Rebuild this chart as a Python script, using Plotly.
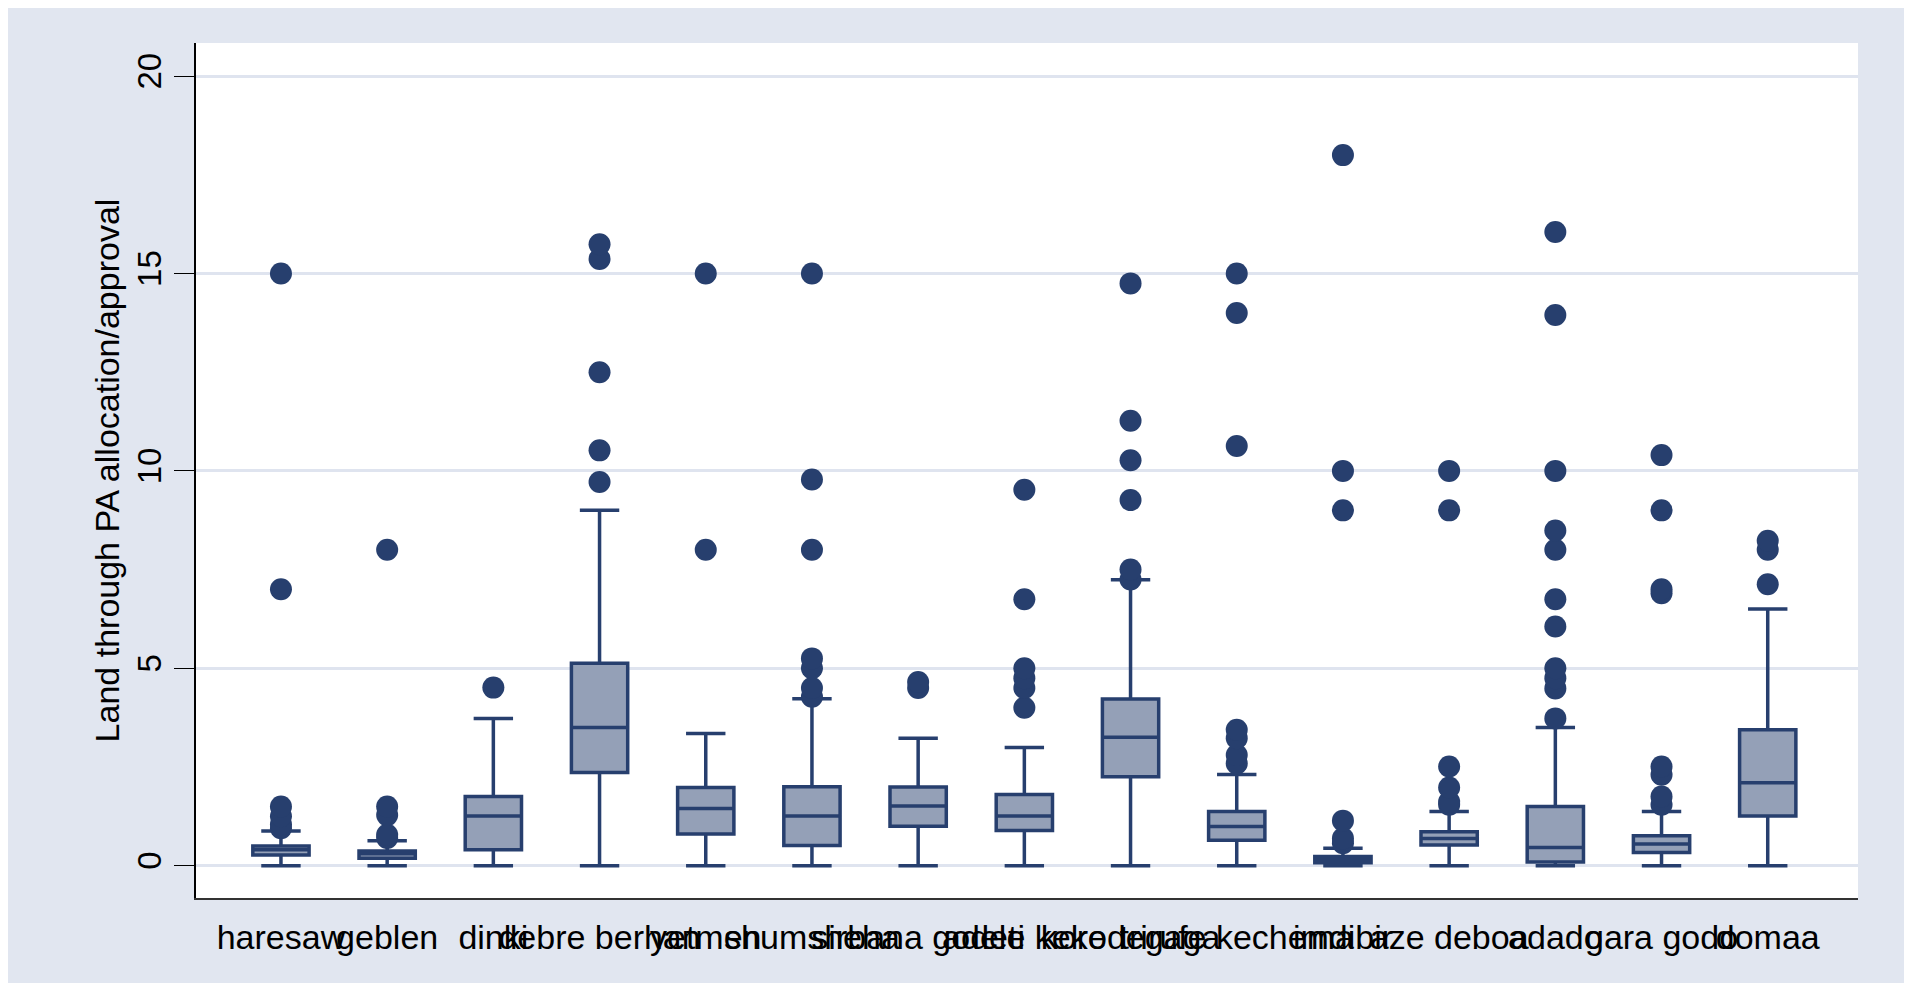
import plotly.graph_objects as go

categories = ["haresaw", "geblen", "dinki", "debre berhan", "yetmen", "shumsheha",
              "sirbana godeti", "adele keke", "korodegaga", "trirufe kechema",
              "imdibir", "aze deboa", "adado", "gara godo", "domaa"]

q1 =     [0.27, 0.19, 0.40, 2.36, 0.80, 0.51, 1.00, 0.89, 2.25, 0.64, 0.07, 0.52, 0.09, 0.33, 1.26]
median = [0.40, 0.30, 1.26, 3.50, 1.45, 1.26, 1.51, 1.26, 3.25, 0.99, 0.16, 0.69, 0.46, 0.55, 2.10]
q3 =     [0.50, 0.37, 1.75, 5.13, 1.98, 2.00, 1.99, 1.80, 4.22, 1.37, 0.23, 0.86, 1.50, 0.76, 3.44]
lower =  [0, 0, 0, 0, 0, 0, 0, 0, 0, 0, 0, 0, 0, 0, 0]
upper =  [0.88, 0.63, 3.73, 9.00, 3.35, 4.23, 3.23, 2.99, 7.24, 2.31, 0.44, 1.37, 3.50, 1.37, 6.50]

outliers = [
    [0.95, 1.05, 1.25, 1.5, 7.0, 15.0],
    [0.7, 0.78, 1.28, 1.5, 8.0],
    [4.51],
    [9.72, 10.52, 12.5, 15.37, 15.74],
    [8.0, 15.0],
    [4.28, 4.5, 5.0, 5.25, 8.0, 9.78, 15.0],
    [4.5, 4.65],
    [4.0, 4.5, 4.75, 5.0, 6.75, 9.52],
    [7.25, 7.5, 9.26, 10.27, 11.27, 14.75],
    [2.59, 2.8, 3.23, 3.44, 10.63, 14.0, 15.0],
    [0.57, 0.69, 1.14, 9.0, 10.0, 18.0],
    [1.54, 1.62, 1.98, 2.51, 9.0, 10.0],
    [3.73, 4.49, 4.75, 5.0, 6.06, 6.75, 8.0, 8.49, 10.0, 13.95, 16.05],
    [1.54, 1.75, 2.3, 2.51, 6.9, 7.0, 9.0, 10.4],
    [7.13, 8.0, 8.23],
]

y_ticks = [0, 5, 10, 15, 20]
y_title = "Land through PA allocation/approval"

NAVY = "#273f6e"
FILL = "#94a0b7"
BG = "#e1e6f0"
FONT = "Liberation Sans, Arial, sans-serif"

fig = go.Figure()
fig.add_trace(go.Box(
    x=categories, q1=q1, median=median, q3=q3,
    lowerfence=lower, upperfence=upper,
    boxpoints=False, width=0.53, whiskerwidth=0.7,
    fillcolor=FILL, line=dict(color=NAVY, width=3.5),
    showlegend=False, hoverinfo="skip",
))

ox, oy = [], []
for cat, vals in zip(categories, outliers):
    for v in vals:
        ox.append(cat)
        oy.append(v)
fig.add_trace(go.Scatter(
    x=ox, y=oy, mode="markers",
    marker=dict(color=NAVY, size=22, line=dict(width=0)),
    showlegend=False, hoverinfo="skip",
))

# page body adds an 8px offset, so the figure is 8px smaller
W, H = 1904, 975
L, R, T, B = 188, 54, 35, 85

fig.update_layout(
    width=W, height=H,
    margin=dict(l=L, r=R, t=T, b=B, pad=0, autoexpand=False),
    paper_bgcolor=BG, plot_bgcolor="white",
    font=dict(family=FONT, color="black", size=33),
    xaxis=dict(
        type="category", range=[-0.80, 14.85],
        showgrid=False, zeroline=False, automargin=False,
        showline=True, linecolor="#333333", linewidth=1.5,
        ticks="outside", ticklen=8, tickcolor="rgba(0,0,0,0)",
        tickangle=0,
        tickfont=dict(size=34, family=FONT, color="black"),
    ),
    yaxis=dict(
        range=[-0.82, 20.84], tickvals=y_ticks,
        showgrid=True, gridcolor="#dfe4ef", gridwidth=2.5,
        zeroline=False, automargin=False,
        showline=True, linecolor="black", linewidth=1.5,
        ticks="outside", ticklen=20, tickcolor="black", tickwidth=1.2,
        tickangle=-90,
        tickfont=dict(size=33, family=FONT, color="black"),
        title=dict(text=y_title, font=dict(size=34, family=FONT, color="black"), standoff=1),
    ),
)

fig.write_html("out.html")
